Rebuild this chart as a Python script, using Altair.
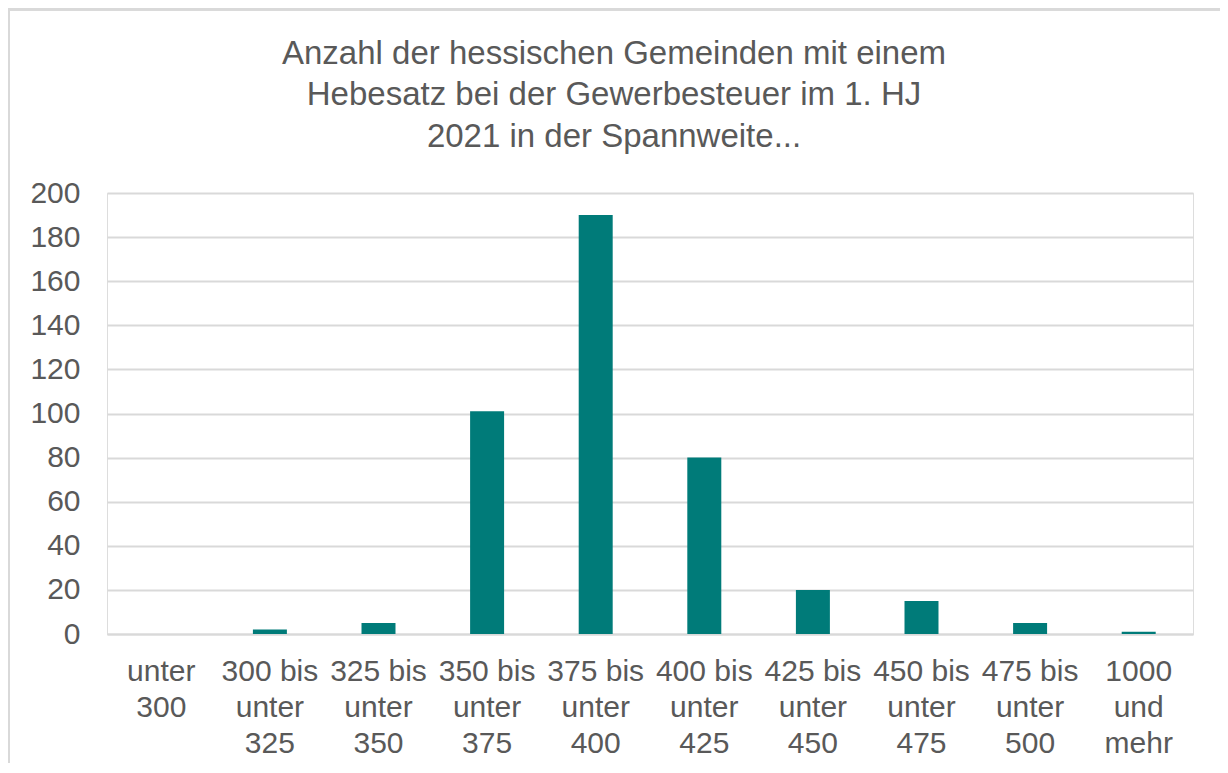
import altair as alt
import pandas as pd

categories = [
    "unter\n300",
    "300 bis\nunter\n325",
    "325 bis\nunter\n350",
    "350 bis\nunter\n375",
    "375 bis\nunter\n400",
    "400 bis\nunter\n425",
    "425 bis\nunter\n450",
    "450 bis\nunter\n475",
    "475 bis\nunter\n500",
    "1000\nund\nmehr",
]
counts = [0, 2, 5, 101, 190, 80, 20, 15, 5, 1]
y_ticks = [0, 20, 40, 60, 80, 100, 120, 140, 160, 180, 200]
title_lines = [
    "Anzahl der hessischen Gemeinden mit einem",
    "Hebesatz bei der Gewerbesteuer im 1. HJ",
    "2021 in der Spannweite...",
]

df = pd.DataFrame({"Spannweite": categories, "Anzahl": counts})

FONT = "Liberation Sans"
GREY = "#595959"

PAD_L, PAD_T, PAD_R, PAD_B = 99, 185, 27, 129
W, H = 1086, 441

bars = alt.Chart(df).mark_bar(color="#007B79").encode(
    x=alt.X(
        "Spannweite:N",
        sort=categories,
        scale=alt.Scale(paddingInner=0.687, paddingOuter=0.3435),
        axis=alt.Axis(
            title=None,
            labelAngle=0,
            labelExpr="split(datum.label, '\\n')",
            labelFontSize=30,
            labelFont=FONT,
            labelColor=GREY,
            labelLineHeight=36,
            labelPadding=22,
            ticks=False,
            domain=True,
            domainColor="#d9d9d9",
            domainWidth=2,
            grid=False,
        ),
    ),
    y=alt.Y(
        "Anzahl:Q",
        scale=alt.Scale(domain=[0, 200]),
        axis=alt.Axis(
            title=None,
            values=y_ticks,
            labelFontSize=30,
            labelFont=FONT,
            labelColor=GREY,
            labelPadding=27,
            ticks=False,
            domain=False,
            grid=True,
            gridColor="#d9d9d9",
            gridWidth=2,
        ),
    ),
)

frame = alt.Chart(df).mark_rect(
    fill=None, stroke="#d9d9d9", strokeWidth=3
).encode(
    x=alt.value(-PAD_L + 0.5),
    x2=alt.value(W + PAD_R + 10),
    y=alt.value(-PAD_T + 1),
    y2=alt.value(H + PAD_B + 10),
)

chart = alt.layer(frame, bars).properties(
    width=W,
    height=H,
    autosize=alt.AutoSizeParams(type="none"),
    padding={"left": PAD_L, "top": PAD_T, "right": PAD_R, "bottom": PAD_B},
    title=alt.TitleParams(
        text=title_lines,
        font=FONT,
        fontSize=33,
        fontWeight="normal",
        color=GREY,
        lineHeight=41.5,
        anchor="middle",
        dx=-36,
        offset=-146,
    ),
).configure_view(stroke=None).configure(background="white")

chart.save("out.html", embed_options={"renderer": "svg", "actions": False})
